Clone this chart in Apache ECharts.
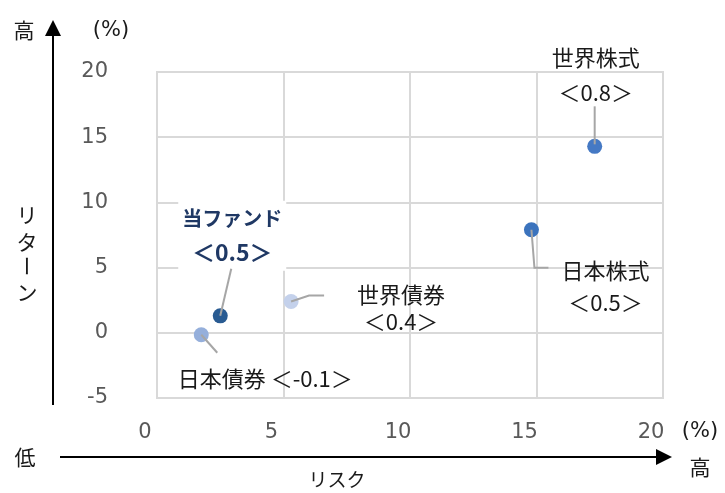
<!DOCTYPE html>
<html><head><meta charset="utf-8">
<script src="https://cdn.jsdelivr.net/npm/echarts@6/dist/echarts.min.js"></script>
<style>html,body{margin:0;padding:0;background:#fff}#c{width:725px;height:493px}</style>
</head><body><div id="c"></div>
<script>
const names = ['当ファンド', '日本債券', '世界債券', '日本株式', '世界株式'];
const risk = [2.5, 1.75, 5.3, 14.8, 17.3];
const ret = [1.3, -0.15, 2.4, 7.9, 14.3];
const ratio = ['0.5', '-0.1', '0.4', '0.5', '0.8'];
const xTicks = [0, 5, 10, 15, 20];
const yTicks = [-5, 0, 5, 10, 15, 20];

const colors = ['#295b92', '#95afdb', '#c4d1eb', '#3b73bd', '#4579c4'];
// label offsets (px) from each point, and leader-line paths relative to each point
const offsets = [[12, -80], [64, 44], [110, 7], [74, 57], [1, -71]];
const leaders = [
  [[0, 0], [11, -47]],
  [[0, 0], [16, 18]],
  [[0, 0], [18, -6], [33, -6]],
  [[0, 0], [3, 38], [17, 38]],
  [[0, -40], [0, -2]]
];
const FONT = '"Noto Sans CJK JP", sans-serif';
const NUMFONT = '"DejaVu Sans", sans-serif';

const data = names.map((n, i) => {
  const isFund = i === 0;
  let text;
  if (isFund) text = '{a|' + n + '}\n{b|＜' + ratio[i] + '＞}';
  else if (i === 1) text = n + ' ＜' + ratio[i] + '＞';
  else text = n + '\n＜' + ratio[i] + '＞';
  return {
    name: n,
    value: [risk[i], ret[i]],
    itemStyle: { color: colors[i], opacity: 1 },
    label: {
      show: true,
      position: 'inside',
      formatter: text,
      fontFamily: FONT,
      fontSize: 22,
      fontWeight: isFund ? 'bold' : 'normal',
      color: isFund ? '#1f3864' : '#1a1a1a',
      lineHeight: i === 2 ? 27 : (i === 4 ? 35 : 32),
      align: 'center',
      backgroundColor: isFund ? '#ffffff' : 'transparent',
      padding: isFund ? [2, 4] : 0,
      rich: isFund ? {
        a: { fontSize: 20, fontWeight: 'bold', color: '#1f3864', fontFamily: FONT, lineHeight: 32 },
        b: { fontSize: 23, fontWeight: 'bold', color: '#1f3864', fontFamily: FONT, lineHeight: 34 }
      } : undefined
    }
  };
});

const chart = echarts.init(document.getElementById('c'));
const txt = (t, x, y, size, extra) => Object.assign({
  type: 'text', x: x, y: y, z: 20,
  style: { text: t, font: size + 'px ' + FONT, fill: '#1a1a1a', align: 'center', verticalAlign: 'middle' }
}, extra || {});

const graphics = [
  { type: 'line', shape: { x1: 53, y1: 405, x2: 53, y2: 32 }, style: { stroke: '#000', lineWidth: 2 } },
  { type: 'polygon', shape: { points: [[53, 20], [45, 36], [61, 36]] }, style: { fill: '#000' } },
  { type: 'line', shape: { x1: 60, y1: 457, x2: 660, y2: 457 }, style: { stroke: '#000', lineWidth: 2 } },
  { type: 'polygon', shape: { points: [[672, 457], [656, 449], [656, 465]] }, style: { fill: '#000' } },
  txt('高', 24, 30, 21),
  { type: 'text', x: 111, y: 31, style: { text: '(%)', font: '21px ' + NUMFONT, fill: '#1a1a1a', align: 'center', verticalAlign: 'middle' } },
  txt('低', 25, 457, 21),
  txt('高', 700, 467, 21),
  { type: 'text', x: 700, y: 432, style: { text: '(%)', font: '21px ' + NUMFONT, fill: '#1a1a1a', align: 'center', verticalAlign: 'middle' } },
  txt('リスク', 337, 480, 19),
  txt('リ', 27, 215, 21),
  txt('タ', 27, 242, 21),
  txt('ー', 27, 266, 21, { rotation: -Math.PI / 2 }),
  txt('ン', 27, 292, 21)
];

chart.setOption({
  animation: false,
  grid: { left: 157, right: 62, top: 72, bottom: 95, show: true, borderColor: '#d9d9d9', borderWidth: 2 },
  xAxis: {
    type: 'value', min: xTicks[0], max: xTicks[xTicks.length - 1], interval: 5,
    axisLine: { show: false }, axisTick: { show: false },
    splitLine: { lineStyle: { color: '#d9d9d9', width: 2 } },
    axisLabel: { margin: 24, fontSize: 21, color: '#595959', fontFamily: NUMFONT, padding: [0, 24, 0, 0] }
  },
  yAxis: {
    type: 'value', min: yTicks[0], max: yTicks[yTicks.length - 1], interval: 5,
    axisLine: { show: false }, axisTick: { show: false },
    splitLine: { lineStyle: { color: '#d9d9d9', width: 2 } },
    axisLabel: { margin: 49, fontSize: 21, color: '#595959', fontFamily: NUMFONT }
  },
  series: [{
    type: 'scatter',
    symbolSize: 15,
    data: data,
    labelLayout: function (p) {
      const o = offsets[p.dataIndex];
      return { dx: o[0], dy: o[1] };
    }
  }],
  graphic: graphics
});

// leader lines anchored to each point's pixel position via the chart's scales
names.forEach((n, i) => {
  const p = chart.convertToPixel({ seriesIndex: 0 }, [risk[i], ret[i]]);
  graphics.push({
    type: 'polyline', z: 10,
    shape: { points: leaders[i].map(d => [p[0] + d[0], p[1] + d[1]]) },
    style: { stroke: '#a6a6a6', lineWidth: 2, fill: null }
  });
});
chart.setOption({ graphic: graphics });
</script></body></html>
